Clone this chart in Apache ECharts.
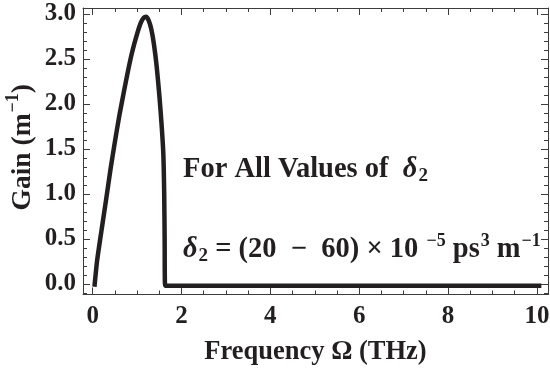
<!DOCTYPE html>
<html><head><meta charset="utf-8">
<script src="https://cdn.jsdelivr.net/npm/echarts@6/dist/echarts.min.js"></script>
<style>html,body{margin:0;padding:0;background:#fff}#c{width:550px;height:371px}</style>
</head><body><div id="c"></div>
<script>
// ---- data ----
const freq = [0.04, 0.1, 0.2, 0.3, 0.4, 0.5, 0.6, 0.7, 0.8, 0.9, 1.0, 1.08, 1.15, 1.2, 1.26, 1.32, 1.38, 1.44, 1.5, 1.55, 1.59, 1.61, 1.62, 1.63, 10.1];
const gain = [-0.03, 0.26, 0.6, 0.93, 1.27, 1.58, 1.87, 2.13, 2.38, 2.6, 2.78, 2.9, 2.96, 2.97, 2.93, 2.83, 2.66, 2.42, 2.1, 1.78, 1.45, 1.0, 0.5, -0.02, -0.02];
const xMajorTicks = [0, 2, 4, 6, 8, 10];
const xTickLabels = ['0', '2', '4', '6', '8', '10'];
const xMinorTicks = [0.5, 1, 1.5, 2.5, 3, 3.5, 4.5, 5, 5.5, 6.5, 7, 7.5, 8.5, 9, 9.5];
const yMajorTicks = [0, 0.5, 1, 1.5, 2, 2.5, 3];
const yTickLabels = ['0.0', '0.5', '1.0', '1.5', '2.0', '2.5', '3.0'];
const yMinorTicks = [-0.1, 0.1, 0.2, 0.3, 0.4, 0.6, 0.7, 0.8, 0.9, 1.1, 1.2, 1.3, 1.4, 1.6, 1.7, 1.8, 1.9, 2.1, 2.2, 2.3, 2.4, 2.6, 2.7, 2.8, 2.9];
const xTitle = 'Frequency Ω (THz)';
const yTitle = '{m0|Gain (m}{sup|−1}{m|)}';
const note1 = '{b|For All Values of  }{d|δ}{sub|2}';
const note2 = '{d|δ}{sub|2}{b| = (20  −  60) × 10 }{sup|−5}{b| ps}{sup|3}{b| m}{sup|−1}';

const FONT = 'Liberation Serif';
const INK = '#231f20';
const FRAME = '#3c3c3c';
const X_MIN = -0.218, X_MAX = 10.25, Y_MIN = -0.117, Y_MAX = 3.067;

function axisBase(pos, ticks, len, showLine, range) {
  return {
    type: 'value', position: pos, min: range[0], max: range[1],
    axisLine: { show: showLine, onZero: false, lineStyle: { color: FRAME, width: 1 } },
    axisTick: { show: true, inside: true, length: len, customValues: ticks, lineStyle: { color: FRAME, width: 1 } },
    axisLabel: { show: false },
    splitLine: { show: false }, minorTick: { show: false }
  };
}
const xr = [X_MIN, X_MAX], yr = [Y_MIN, Y_MAX];
const xMain = axisBase('bottom', xMajorTicks, 7, true, xr);
xMain.axisLabel = {
  show: true, customValues: xMajorTicks, margin: 10,
  formatter: v => xTickLabels[xMajorTicks.indexOf(v)] ?? String(v),
  fontFamily: FONT, fontWeight: 'bold', fontSize: 25, color: INK
};
xMain.name = xTitle; xMain.nameLocation = 'middle'; xMain.nameGap = 44; xMain.nameMoveOverlap = false;
xMain.nameTextStyle = { fontFamily: FONT, fontWeight: 'bold', fontSize: 26.5, color: INK };

const yMain = axisBase('left', yMajorTicks, 7, true, yr);
yMain.axisLabel = {
  show: true, customValues: yMajorTicks, margin: 7,
  formatter: v => yTickLabels[yMajorTicks.indexOf(v)] ?? v.toFixed(1),
  fontFamily: FONT, fontWeight: 'bold', fontSize: 25, color: INK
};
yMain.name = yTitle; yMain.nameLocation = 'middle'; yMain.nameGap = 46; yMain.nameRotate = 90;
yMain.nameMoveOverlap = false;
yMain.nameTextStyle = {
  fontFamily: FONT, fontWeight: 'bold', fontSize: 27, color: INK,
  rich: {
    m0: { fontFamily: FONT, fontWeight: 'bold', fontSize: 27.5, color: INK, verticalAlign: 'top', padding: [5, 0, 0, 8] },
    m: { fontFamily: FONT, fontWeight: 'bold', fontSize: 27.5, color: INK, verticalAlign: 'top', padding: [5, 0, 0, 0] },
    sup: { fontFamily: FONT, fontWeight: 'bold', fontSize: 18, color: INK, verticalAlign: 'top', padding: [0, 0, 0, 1] }
  }
};

const richNote = {
  b: { fontFamily: FONT, fontWeight: 'bold', fontSize: 28.5, fill: INK, verticalAlign: 'top', padding: [6, 0, 0, 0] },
  d: { fontFamily: FONT, fontWeight: 'bold', fontStyle: 'italic', fontSize: 28.5, fill: INK, verticalAlign: 'top', padding: [6, 0, 0, 0] },
  sub: { fontFamily: FONT, fontWeight: 'bold', fontSize: 19, fill: INK, verticalAlign: 'top', padding: [18, 0, 0, 1] },
  sup: { fontFamily: FONT, fontWeight: 'bold', fontSize: 18, fill: INK, verticalAlign: 'top', padding: [3, 0, 0, 1] }
};

const chart = echarts.init(document.getElementById('c'), null, { renderer: 'canvas' });
chart.setOption({
  animation: false,
  backgroundColor: '#ffffff',
  grid: { left: 83, right: 2, top: 8, bottom: 76.5, containLabel: false, outerBoundsMode: 'none' },
  xAxis: [
    xMain,
    axisBase('bottom', xMinorTicks, 4, false, xr),
    axisBase('top', xMajorTicks, 7, true, xr),
    axisBase('top', xMinorTicks, 4, false, xr)
  ],
  yAxis: [
    yMain,
    axisBase('left', yMinorTicks, 4, false, yr),
    axisBase('right', yMajorTicks, 7, true, yr),
    axisBase('right', yMinorTicks, 4, false, yr)
  ],
  series: [{
    type: 'line', xAxisIndex: 0, yAxisIndex: 0,
    data: freq.map((f, i) => [f, gain[i]]),
    showSymbol: false, smooth: 0.2, clip: false,
    lineStyle: { color: INK, width: 4.5, cap: 'butt', join: 'miter' }
  }],
  graphic: [
    { type: 'text', left: 183, top: 155, style: { text: note1, rich: richNote, fill: INK } },
    { type: 'text', left: 183, top: 232, style: { text: note2, rich: richNote, fill: INK } }
  ]
});
</script></body></html>
